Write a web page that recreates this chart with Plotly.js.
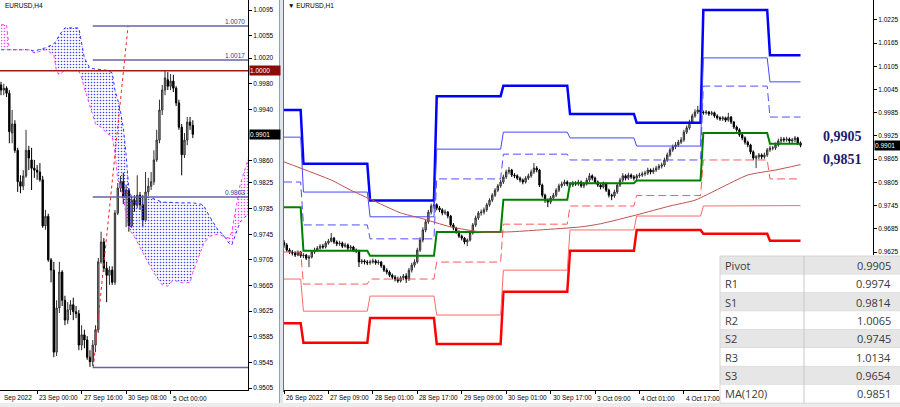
<!DOCTYPE html>
<html><head><meta charset="utf-8">
<script src="https://cdn.plot.ly/plotly-3.0.1.min.js"></script>
<style>html,body{margin:0;padding:0;background:#fff;overflow:hidden}#chart{width:900px;height:407px}</style>
</head><body><div id="chart"></div>
<script>
// ===================== LEFT PANEL: EURUSD,H4 (bar index 0 = 20 Sep 20:00) =====================
const h4Open = [0.9978,0.9970,0.9973,0.9965,0.9903,0.9917,0.9876,0.9827,0.9820,0.9836,
0.9876,0.9861,0.9848,0.9845,0.9842,0.9830,0.9758,0.9773,0.9705,0.9689,
0.9561,0.9630,0.9686,0.9642,0.9611,0.9627,0.9635,0.9624,0.9621,0.9572,
0.9588,0.9580,0.9553,0.9546,0.9572,0.9596,0.9702,0.9733,0.9692,0.9681,
0.9689,0.9670,0.9778,0.9817,0.9827,0.9802,0.9814,0.9758,0.9798,0.9791,
0.9806,0.9791,0.9767,0.9811,0.9820,0.9827,0.9861,0.9892,0.9939,0.9970,
0.9986,0.9976,0.9984,0.9973,0.9950,0.9912,0.9869,0.9892,0.9920,0.9915];
const h4High = [0.9983,0.9980,0.9976,0.9970,0.9939,0.9923,0.9880,0.9837,0.9845,0.9908,
0.9883,0.9880,0.9861,0.9853,0.9856,0.9836,0.9783,0.9777,0.9708,0.9702,
0.9642,0.9702,0.9689,0.9649,0.9639,0.9642,0.9646,0.9633,0.9627,0.9603,
0.9596,0.9586,0.9564,0.9580,0.9603,0.9708,0.9749,0.9739,0.9702,0.9695,
0.9695,0.9783,0.9825,0.9836,0.9841,0.9822,0.9817,0.9805,0.9806,0.9837,
0.9811,0.9806,0.9842,0.9833,0.9842,0.9876,0.9908,0.9955,0.9978,1.0001,
0.9998,0.9995,0.9994,0.9976,0.9955,0.9917,0.9903,0.9928,0.9928,0.9923];
const h4Low = [0.9962,0.9962,0.9959,0.9887,0.9887,0.9872,0.9811,0.9809,0.9814,0.9833,
0.9845,0.9814,0.9833,0.9830,0.9827,0.9755,0.9752,0.9702,0.9670,0.9553,
0.9555,0.9622,0.9633,0.9603,0.9605,0.9619,0.9611,0.9614,0.9564,0.9564,
0.9567,0.9549,0.9538,0.9539,0.9561,0.9591,0.9699,0.9686,0.9639,0.9666,
0.9666,0.9666,0.9775,0.9811,0.9792,0.9756,0.9749,0.9755,0.9780,0.9786,
0.9783,0.9756,0.9764,0.9805,0.9814,0.9822,0.9858,0.9887,0.9931,0.9962,
0.9970,0.9970,0.9967,0.9945,0.9908,0.9837,0.9864,0.9884,0.9908,0.9895];
const h4Close = [0.9970,0.9973,0.9965,0.9905,0.9917,0.9876,0.9827,0.9820,0.9836,0.9876,
0.9864,0.9848,0.9845,0.9842,0.9830,0.9758,0.9773,0.9705,0.9689,0.9561,
0.9630,0.9686,0.9642,0.9611,0.9627,0.9635,0.9624,0.9621,0.9572,0.9588,
0.9580,0.9553,0.9546,0.9572,0.9596,0.9702,0.9733,0.9692,0.9681,0.9689,
0.9670,0.9778,0.9817,0.9827,0.9802,0.9814,0.9758,0.9798,0.9791,0.9806,
0.9791,0.9767,0.9811,0.9820,0.9827,0.9861,0.9892,0.9939,0.9970,0.9989,
0.9976,0.9984,0.9973,0.9950,0.9912,0.9869,0.9892,0.9920,0.9915,0.9901];

// Ichimoku cloud (Senkou span A / B), bar index positions
const cloudIdx = [0,2,3,10,12,16,19,20,21,23,28,29,30,32,34,36,38,40,41,42,43,44,45,46,47,48,51,54,56,58,60,62,64,66,68,69,72,73,75,78,80,82,83,85,86,89];
const spanA = [1.0033,1.0033,1.0033,1.0033,1.0031,1.0036,1.0042,1.0048,1.0056,1.0067,1.0067,1.0040,1.0020,1.0004,1.0003,1.0003,1.0001,0.9997,0.9970,0.9955,0.9936,0.9911,0.9869,0.9814,0.9803,0.9802,0.9803,0.9802,0.9798,0.9795,0.9795,0.9794,0.9794,0.9794,0.9794,0.9794,0.9792,0.9789,0.9773,0.9752,0.9744,0.9731,0.9728,0.9752,0.9764,0.9777];
const spanB = [1.0072,1.0072,1.0033,1.0033,1.0028,1.0033,1.0025,0.9998,0.9994,1.0001,1.0000,0.9989,0.9973,0.9944,0.9917,0.9912,0.9903,0.9897,0.9872,0.9830,0.9819,0.9803,0.9775,0.9756,0.9747,0.9741,0.9716,0.9692,0.9678,0.9666,0.9664,0.9674,0.9670,0.9669,0.9670,0.9685,0.9720,0.9731,0.9742,0.9745,0.9742,0.9739,0.9749,0.9798,0.9822,0.9864];

// Fibonacci levels and trend line
const fibLevels = [1.0070, 1.0017, 0.9803, 0.9537];
const fibLabels = ['1.0070', '1.0017', '0.9803', ''];
const fibStartIdx = 33;
const trendIdx = [33.2, 45.7];
const trendVal = [0.9537, 1.0070];
const roundLevel = 1.0000;
const h4Last = 0.9901;

const h4TickVals = [1.0095,1.0055,1.0020,0.9980,0.9940,0.9860,0.9825,0.9785,0.9745,0.9705,0.9665,0.9625,0.9585,0.9545,0.9505];
const h4DateIdx = [13, 29, 45, 61];
const h4DateLabels = ['23 Sep 00:00','27 Sep 16:00','30 Sep 08:00','5 Oct 00:00'];
const h4FirstLabel = 'Sep 2022';

// ===================== RIGHT PANEL: EURUSD,H1 (bar index 0 = 26 Sep 17:00) =====================
const h1Open = [0.9650,0.9643,0.9630,0.9625,0.9622,0.9617,0.9625,0.9615,0.9617,0.9609,
0.9612,0.9625,0.9630,0.9635,0.9640,0.9638,0.9648,0.9653,0.9661,0.9651,
0.9646,0.9648,0.9640,0.9643,0.9635,0.9638,0.9630,0.9628,0.9599,0.9602,
0.9599,0.9597,0.9599,0.9602,0.9597,0.9599,0.9589,0.9578,0.9573,0.9565,
0.9560,0.9555,0.9550,0.9558,0.9563,0.9555,0.9578,0.9591,0.9599,0.9630,
0.9656,0.9682,0.9703,0.9728,0.9744,0.9747,0.9739,0.9734,0.9726,0.9728,
0.9718,0.9695,0.9687,0.9677,0.9666,0.9661,0.9651,0.9656,0.9674,0.9695,
0.9713,0.9726,0.9728,0.9734,0.9747,0.9759,0.9772,0.9785,0.9796,0.9806,
0.9819,0.9832,0.9837,0.9824,0.9822,0.9816,0.9811,0.9806,0.9816,0.9822,
0.9832,0.9842,0.9837,0.9798,0.9772,0.9759,0.9754,0.9765,0.9772,0.9785,
0.9796,0.9801,0.9806,0.9801,0.9798,0.9803,0.9801,0.9806,0.9796,0.9801,
0.9811,0.9822,0.9816,0.9806,0.9798,0.9793,0.9801,0.9785,0.9772,0.9770,
0.9780,0.9798,0.9811,0.9822,0.9816,0.9824,0.9819,0.9816,0.9822,0.9824,
0.9827,0.9829,0.9837,0.9832,0.9837,0.9842,0.9847,0.9850,0.9863,0.9876,
0.9889,0.9897,0.9902,0.9909,0.9915,0.9935,0.9946,0.9961,0.9977,0.9987,
0.9992,0.9987,0.9985,0.9987,0.9982,0.9985,0.9977,0.9972,0.9969,0.9972,
0.9966,0.9974,0.9961,0.9948,0.9941,0.9928,0.9920,0.9909,0.9902,0.9884,
0.9868,0.9871,0.9876,0.9871,0.9876,0.9889,0.9894,0.9894,0.9902,0.9912,
0.9917,0.9915,0.9917,0.9912,0.9915,0.9920,0.9907];
const h1High = [0.9656,0.9648,0.9635,0.9630,0.9627,0.9629,0.9628,0.9622,0.9620,0.9617,
0.9629,0.9636,0.9640,0.9645,0.9646,0.9653,0.9659,0.9674,0.9664,0.9655,
0.9654,0.9652,0.9649,0.9647,0.9643,0.9641,0.9634,0.9631,0.9607,0.9606,
0.9604,0.9605,0.9608,0.9606,0.9604,0.9602,0.9592,0.9583,0.9577,0.9569,
0.9565,0.9561,0.9563,0.9568,0.9570,0.9584,0.9597,0.9606,0.9636,0.9663,
0.9689,0.9710,0.9734,0.9750,0.9755,0.9751,0.9744,0.9738,0.9735,0.9731,
0.9721,0.9700,0.9690,0.9681,0.9670,0.9664,0.9660,0.9679,0.9700,0.9719,
0.9731,0.9735,0.9740,0.9752,0.9764,0.9777,0.9790,0.9801,0.9812,0.9825,
0.9838,0.9845,0.9840,0.9829,0.9826,0.9820,0.9815,0.9821,0.9828,0.9838,
0.9855,0.9847,0.9840,0.9802,0.9776,0.9763,0.9770,0.9778,0.9790,0.9802,
0.9807,0.9812,0.9810,0.9805,0.9809,0.9808,0.9812,0.9810,0.9806,0.9817,
0.9829,0.9826,0.9820,0.9810,0.9803,0.9807,0.9805,0.9789,0.9776,0.9786,
0.9803,0.9817,0.9829,0.9826,0.9830,0.9828,0.9824,0.9827,0.9830,0.9833,
0.9835,0.9843,0.9841,0.9843,0.9848,0.9853,0.9856,0.9869,0.9882,0.9895,
0.9903,0.9909,0.9915,0.9922,0.9941,0.9952,0.9967,0.9983,0.9994,1.0003,
0.9996,0.9991,0.9992,0.9990,0.9990,0.9988,0.9981,0.9976,0.9977,0.9975,
0.9985,0.9977,0.9964,0.9952,0.9945,0.9932,0.9924,0.9913,0.9905,0.9888,
0.9876,0.9881,0.9880,0.9882,0.9894,0.9900,0.9899,0.9908,0.9918,0.9923,
0.9922,0.9923,0.9921,0.9920,0.9925,0.9923,0.9911];
const h1Low = [0.9636,0.9625,0.9620,0.9616,0.9612,0.9614,0.9610,0.9609,0.9604,0.9586,
0.9608,0.9620,0.9626,0.9631,0.9633,0.9634,0.9644,0.9650,0.9646,0.9640,
0.9641,0.9635,0.9636,0.9630,0.9629,0.9625,0.9622,0.9586,0.9594,0.9593,
0.9591,0.9592,0.9595,0.9592,0.9592,0.9584,0.9573,0.9567,0.9560,0.9554,
0.9549,0.9545,0.9546,0.9552,0.9545,0.9550,0.9572,0.9585,0.9595,0.9625,
0.9650,0.9676,0.9698,0.9722,0.9737,0.9733,0.9728,0.9720,0.9721,0.9712,
0.9690,0.9681,0.9672,0.9661,0.9655,0.9645,0.9640,0.9652,0.9670,0.9690,
0.9708,0.9719,0.9722,0.9729,0.9742,0.9754,0.9767,0.9780,0.9791,0.9801,
0.9814,0.9826,0.9819,0.9816,0.9811,0.9805,0.9800,0.9802,0.9811,0.9817,
0.9827,0.9831,0.9793,0.9766,0.9752,0.9741,0.9749,0.9760,0.9767,0.9780,
0.9791,0.9796,0.9795,0.9792,0.9793,0.9796,0.9796,0.9791,0.9790,0.9797,
0.9806,0.9810,0.9801,0.9793,0.9787,0.9789,0.9780,0.9766,0.9759,0.9765,
0.9775,0.9793,0.9806,0.9810,0.9811,0.9814,0.9810,0.9811,0.9817,0.9819,
0.9821,0.9824,0.9826,0.9827,0.9832,0.9837,0.9841,0.9845,0.9858,0.9871,
0.9884,0.9891,0.9897,0.9904,0.9910,0.9930,0.9941,0.9956,0.9972,0.9982,
0.9982,0.9980,0.9980,0.9977,0.9978,0.9972,0.9967,0.9964,0.9964,0.9961,
0.9962,0.9956,0.9943,0.9936,0.9923,0.9914,0.9903,0.9896,0.9878,0.9862,
0.9842,0.9865,0.9865,0.9866,0.9871,0.9884,0.9888,0.9889,0.9897,0.9907,
0.9909,0.9910,0.9906,0.9907,0.9909,0.9902,0.9896];
const h1Close = [0.9643,0.9630,0.9625,0.9622,0.9617,0.9625,0.9615,0.9617,0.9609,0.9612,
0.9625,0.9630,0.9635,0.9640,0.9638,0.9648,0.9653,0.9661,0.9651,0.9646,
0.9648,0.9640,0.9643,0.9635,0.9638,0.9630,0.9628,0.9599,0.9602,0.9599,
0.9597,0.9599,0.9602,0.9597,0.9599,0.9589,0.9578,0.9573,0.9565,0.9560,
0.9555,0.9550,0.9558,0.9563,0.9555,0.9578,0.9591,0.9599,0.9630,0.9656,
0.9682,0.9703,0.9728,0.9744,0.9747,0.9739,0.9734,0.9726,0.9728,0.9718,
0.9695,0.9687,0.9677,0.9666,0.9661,0.9651,0.9656,0.9674,0.9695,0.9713,
0.9726,0.9728,0.9734,0.9747,0.9759,0.9772,0.9785,0.9796,0.9806,0.9819,
0.9832,0.9837,0.9824,0.9822,0.9816,0.9811,0.9806,0.9816,0.9822,0.9832,
0.9842,0.9837,0.9798,0.9772,0.9759,0.9754,0.9765,0.9772,0.9785,0.9796,
0.9801,0.9806,0.9801,0.9798,0.9803,0.9801,0.9806,0.9796,0.9801,0.9811,
0.9822,0.9816,0.9806,0.9798,0.9793,0.9801,0.9785,0.9772,0.9770,0.9780,
0.9798,0.9811,0.9822,0.9816,0.9824,0.9819,0.9816,0.9822,0.9824,0.9827,
0.9829,0.9837,0.9832,0.9837,0.9842,0.9847,0.9850,0.9863,0.9876,0.9889,
0.9897,0.9902,0.9909,0.9915,0.9935,0.9946,0.9961,0.9977,0.9987,0.9992,
0.9987,0.9985,0.9987,0.9982,0.9985,0.9977,0.9972,0.9969,0.9972,0.9966,
0.9974,0.9961,0.9948,0.9941,0.9928,0.9920,0.9909,0.9902,0.9884,0.9868,
0.9871,0.9876,0.9871,0.9876,0.9889,0.9894,0.9894,0.9902,0.9912,0.9917,
0.9915,0.9917,0.9912,0.9915,0.9920,0.9907,0.9901];

// Daily pivot levels (26 Sep .. 6 Oct), first/last H1 bar index of each day
const dayFirst = [0, 7, 31, 55, 79, 103, 127, 151, 175];
const dayLast  = [6, 30, 54, 78, 102, 126, 150, 174, 186];
const pivR3 = [0.9992,0.9853,0.9758,1.0028,1.0055,0.9982,0.9959,1.0251,1.0134];
const pivR2 = [0.9922,0.9780,0.9716,0.9891,0.9935,0.9920,0.9899,1.0127,1.0065];
const pivR1 = [0.9806,0.9695,0.9659,0.9814,0.9878,0.9863,0.9863,1.0054,0.9974];
const pivP  = [0.9741,0.9628,0.9615,0.9677,0.9760,0.9803,0.9810,0.9933,0.9905];
const pivS1 = [0.9625,0.9542,0.9555,0.9599,0.9697,0.9744,0.9771,0.9863,0.9814];
const pivS2 = [0.9555,0.9472,0.9511,0.9462,0.9578,0.9682,0.9718,0.9744,0.9745];
const pivS3 = [0.9441,0.9390,0.9454,0.9387,0.9522,0.9628,0.9682,0.9672,0.9654];

// MA(120) sampled along the H1 bars
const maIdx = [0, 17, 24, 31, 42, 49, 60, 71, 81, 92, 107, 114, 127, 139, 148, 157, 167, 177, 186];
const maVal = [0.9858,0.9811,0.9785,0.9762,0.9726,0.9713,0.9690,0.9677,0.9677,0.9682,0.9690,0.9698,0.9721,0.9744,0.9759,0.9790,0.9824,0.9837,0.9851];
const h1Last = 0.9901;

const h1TickVals = [1.0225,1.0165,1.0105,1.0045,0.9985,0.9925,0.9865,0.9805,0.9745,0.9685,0.9625];
const h1DateIdx = [0,16,32,48,64,80,96,112,128,144];
const h1DateLabels = ['26 Sep 2022','27 Sep 09:00','28 Sep 01:00','28 Sep 17:00','29 Sep 09:00','30 Sep 01:00','30 Sep 17:00','3 Oct 09:00','4 Oct 01:00','4 Oct 17:00'];

// Key levels table and side labels
const tableLabels = ['Pivot','R1','S1','R2','S2','R3','S3','MA(120)'];
const tableValues = ['0.9905','0.9974','0.9814','1.0065','0.9745','1.0134','0.9654','0.9851'];
const sideLabels = ['0,9905','0,9851'];

// ===================== BUILD =====================
const W = 900, H = 407;
const px = v => v / W, py = v => 1 - v / H;
const AX = 'Liberation Sans, Arial, sans-serif';
const axFont = {family: AX, size: 6.5, color: '#000'};
const yDom = [py(390), 1];

const traces = [];
const cloudLow = spanA.map((a, i) => Math.min(a, spanB[i]));
traces.push({type:'scatter', mode:'lines', x: cloudIdx, y: cloudLow, xaxis:'x', yaxis:'y', line:{width:0, color:'rgba(0,0,0,0)'}, hoverinfo:'skip'});
traces.push({type:'scatter', mode:'lines', x: cloudIdx, y: spanA, xaxis:'x', yaxis:'y', fill:'tonexty',
  fillcolor:'rgba(0,0,0,0)', fillpattern:{shape:'.', fgcolor:'#4040ff', bgcolor:'rgba(255,255,255,0)', size:3, solidity:0.22},
  line:{color:'#3030ff', width:1, dash:'dot'}, hoverinfo:'skip'});
traces.push({type:'scatter', mode:'lines', x: cloudIdx, y: cloudLow, xaxis:'x', yaxis:'y', line:{width:0, color:'rgba(0,0,0,0)'}, hoverinfo:'skip'});
traces.push({type:'scatter', mode:'lines', x: cloudIdx, y: spanB, xaxis:'x', yaxis:'y', fill:'tonexty',
  fillcolor:'rgba(0,0,0,0)', fillpattern:{shape:'.', fgcolor:'#ff40ff', bgcolor:'rgba(255,255,255,0)', size:3, solidity:0.22},
  line:{color:'#ff40ff', width:1, dash:'dot'}, hoverinfo:'skip'});
fibLevels.forEach(v => traces.push({type:'scatter', mode:'lines', x:[fibStartIdx, 95], y:[v, v], xaxis:'x', yaxis:'y', line:{color:'#6464a8', width:1.5}, hoverinfo:'skip'}));
traces.push({type:'scatter', mode:'lines', x:[-5, 95], y:[roundLevel, roundLevel], xaxis:'x', yaxis:'y', line:{color:'#a01818', width:1.5}, hoverinfo:'skip'});
traces.push({type:'scatter', mode:'lines', x: trendIdx, y: trendVal, xaxis:'x', yaxis:'y', line:{color:'#ff2020', width:1, dash:'dot'}, hoverinfo:'skip'});
traces.push({type:'candlestick', x: h4Open.map((_, i) => i), open: h4Open, high: h4High, low: h4Low, close: h4Close,
  xaxis:'x', yaxis:'y', whiskerwidth:0,
  increasing:{line:{color:'#303030', width:1}, fillcolor:'#a8a8a8'},
  decreasing:{line:{color:'#000', width:1}, fillcolor:'#000'}, hoverinfo:'skip'});

// right panel pivot lines
function stepLine(levels) {
  const xs = [], ys = [];
  levels.forEach((v, d) => { xs.push(dayFirst[d], dayLast[d]); ys.push(v, v); });
  return {x: xs, y: ys};
}
const pivStyles = [
  [pivR3, {color:'#0000ff', width:2.5}],
  [pivR2, {color:'#4646ff', width:1}],
  [pivR1, {color:'#5050ff', width:1, dash:'8px,4px'}],
  [pivS3, {color:'#ff0000', width:2.5}],
  [pivS2, {color:'#ff6a6a', width:1}],
  [pivS1, {color:'#ff5a5a', width:1, dash:'8px,4px'}],
  [pivP,  {color:'#008000', width:2}]
];
pivStyles.forEach(([lv, ln]) => { const s = stepLine(lv); traces.push({type:'scatter', mode:'lines', x:s.x, y:s.y, xaxis:'x2', yaxis:'y2', line:ln, hoverinfo:'skip'}); });
traces.push({type:'scatter', mode:'lines', x: maIdx, y: maVal, xaxis:'x2', yaxis:'y2', line:{color:'#c0504d', width:1, shape:'spline', smoothing:0.6}, hoverinfo:'skip'});
traces.push({type:'candlestick', x: h1Open.map((_, i) => i), open: h1Open, high: h1High, low: h1Low, close: h1Close,
  xaxis:'x2', yaxis:'y2', whiskerwidth:0,
  increasing:{line:{color:'#303030', width:1}, fillcolor:'#a8a8a8'},
  decreasing:{line:{color:'#000', width:1}, fillcolor:'#000'}, hoverinfo:'skip'});

const annotations = [];
const shapes = [];
const txt = (o) => Object.assign({showarrow:false, font:axFont}, o);
// titles
annotations.push(txt({xref:'paper', yref:'paper', x:px(3), y:py(5), xanchor:'left', yanchor:'middle', text:'EURUSD,H4'}));
annotations.push(txt({xref:'paper', yref:'paper', x:px(286), y:py(5), xanchor:'left', yanchor:'middle', text:'▼ EURUSD,H1'}));
// date labels
annotations.push(txt({xref:'paper', yref:'paper', x:px(2), y:py(398), xanchor:'left', yanchor:'middle', text:h4FirstLabel}));
h4DateIdx.forEach((d, i) => annotations.push(txt({xref:'x', yref:'paper', x:d, y:py(398), xanchor:'left', yanchor:'middle', xshift:0, text:h4DateLabels[i]})));
h1DateIdx.forEach((d, i) => annotations.push(txt({xref:'x2', yref:'paper', x:d, y:py(398), xanchor:'left', yanchor:'middle', xshift:0, text:h1DateLabels[i]})));
// fib labels
fibLevels.forEach((v, i) => { if (fibLabels[i]) annotations.push(txt({xref:'paper', yref:'y', x:px(247), y:v, xanchor:'right', yanchor:'bottom', yshift:-1, text:fibLabels[i], font:{family:AX, size:6.5, color:'#3c3c88'}})); });
// price boxes
annotations.push(txt({xref:'paper', yref:'y', x:px(249), y:roundLevel, xanchor:'left', yanchor:'middle', text:roundLevel.toFixed(4), bgcolor:'#8b0a0a', width:30, height:9, align:'left', borderpad:0, font:{family:AX, size:6.5, color:'#fff'}}));
annotations.push(txt({xref:'paper', yref:'y', x:px(249), y:h4Last, xanchor:'left', yanchor:'middle', text:h4Last.toFixed(4), bgcolor:'#000', width:30, height:9, align:'left', borderpad:0, font:{family:AX, size:6.5, color:'#fff'}}));
annotations.push(txt({xref:'paper', yref:'y2', x:px(874), y:h1Last, xanchor:'left', yanchor:'middle', text:h1Last.toFixed(4), bgcolor:'#000', width:26, height:9, align:'left', borderpad:0, font:{family:AX, size:6.5, color:'#fff'}}));
// side labels
sideLabels.forEach((s, i) => annotations.push({xref:'paper', yref:'paper', x:px(842), y:py(136 + i*24), xanchor:'center', yanchor:'middle', showarrow:false, text:'<b>'+s+'</b>', font:{family:'Liberation Serif, Times New Roman, serif', size:14, color:'#1c1c6e'}}));

// panel separator
shapes.push({type:'rect', xref:'paper', yref:'paper', x0:px(279), x1:px(283), y0:py(403), y1:1, fillcolor:'#dfe6ee', line:{width:0}, layer:'above'});
shapes.push({type:'line', xref:'paper', yref:'paper', x0:px(279.5), x1:px(279.5), y0:py(403), y1:1, line:{color:'#8da2b8', width:1}, layer:'above'});
shapes.push({type:'line', xref:'paper', yref:'paper', x0:px(283.5), x1:px(283.5), y0:py(392), y1:1, line:{color:'#707070', width:1}, layer:'above'});
// bottom strip
shapes.push({type:'rect', xref:'paper', yref:'paper', x0:0, x1:1, y0:0, y1:py(403), fillcolor:'#ececec', line:{width:0}, layer:'above'});
// table
const rowTop = 256, rowH = 18.4;
shapes.push({type:'rect', xref:'paper', yref:'paper', x0:px(719), x1:1, y0:py(rowTop + rowH*tableLabels.length), y1:py(rowTop-1), fillcolor:'#ffffff', line:{width:0}, layer:'above'});
tableLabels.forEach((lab, k) => {
  const t = rowTop + k*rowH, b = t + rowH;
  shapes.push({type:'rect', xref:'paper', yref:'paper', x0:px(720), x1:1, y0:py(b), y1:py(t), fillcolor: k % 2 === 0 ? '#e6e6e6' : '#ffffff', line:{width:0}, layer:'above'});
  shapes.push({type:'line', xref:'paper', yref:'paper', x0:px(720), x1:1, y0:py(b), y1:py(b), line:{color:'#d4d4d4', width:1}, layer:'above'});
  annotations.push({xref:'paper', yref:'paper', x:px(723), y:py(t + rowH/2), xanchor:'left', yanchor:'middle', showarrow:false, text:lab, font:{family:'Open Sans, Noto Sans, sans-serif', size:11, color:'#3a3a3a'}});
  annotations.push({xref:'paper', yref:'paper', x:px(893), y:py(t + rowH/2), xanchor:'right', yanchor:'middle', showarrow:false, text:tableValues[k], font:{family:'Open Sans, Noto Sans, sans-serif', size:11, color:'#3a3a3a'}});
});
shapes.push({type:'line', xref:'paper', yref:'paper', x0:px(720), x1:1, y0:py(rowTop), y1:py(rowTop), line:{color:'#d4d4d4', width:1}, layer:'above'});
shapes.push({type:'line', xref:'paper', yref:'paper', x0:px(804), x1:px(804), y0:py(rowTop + rowH*tableLabels.length), y1:py(rowTop), line:{color:'#c8c8c8', width:1}, layer:'above'});
shapes.push({type:'line', xref:'paper', yref:'paper', x0:px(720), x1:px(720), y0:py(rowTop + rowH*tableLabels.length), y1:py(rowTop), line:{color:'#d4d4d4', width:1}, layer:'above'});

const xBase = {showgrid:false, zeroline:false, showline:true, linecolor:'#000', linewidth:1, ticks:'outside', ticklen:3, tickcolor:'#000', showticklabels:false, rangeslider:{visible:false}, fixedrange:true};
const yBase = {showgrid:false, zeroline:false, showline:true, linecolor:'#000', linewidth:1, ticks:'outside', ticklen:3, tickcolor:'#000', side:'right', tickfont:axFont, fixedrange:true};

const layout = {
  width: W, height: H, margin:{l:0, r:0, t:0, b:0}, paper_bgcolor:'#fff', plot_bgcolor:'#fff',
  showlegend:false, hovermode:false,
  xaxis: Object.assign({}, xBase, {domain:[0, px(248)], range:[-0.36, 88.85], anchor:'y', tickvals:h4DateIdx}),
  yaxis: Object.assign({}, yBase, {domain:yDom, range:[0.95019, 1.01106], anchor:'x', tickvals:h4TickVals, ticktext:h4TickVals.map(v => v.toFixed(4))}),
  xaxis2: Object.assign({}, xBase, {domain:[px(283), px(873)], range:[-0.36, 212.1], anchor:'y2', tickvals:h1DateIdx}),
  yaxis2: Object.assign({}, yBase, {domain:yDom, range:[0.92681, 1.02767], anchor:'x2', tickvals:h1TickVals, ticktext:h1TickVals.map(v => v.toFixed(4))}),
  annotations, shapes
};
Plotly.newPlot('chart', traces, layout, {staticPlot:true, displayModeBar:false});
</script></body></html>
